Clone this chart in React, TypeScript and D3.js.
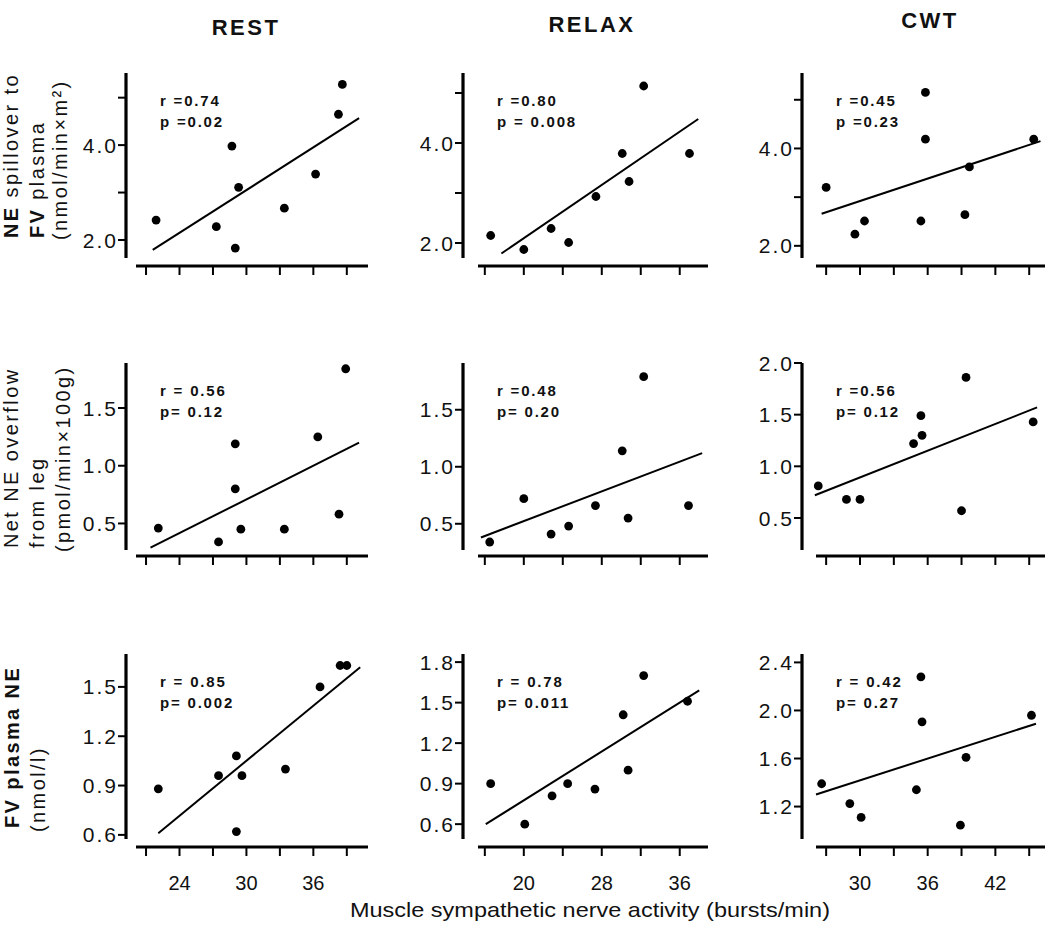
import React from "react";
import * as d3 from "d3";

// ---------- DATA ----------
const columnTitles = ["REST", "RELAX", "CWT"];
const xAxisTitle = "Muscle sympathetic nerve activity (bursts/min)";

// x axes (MSNA, bursts/min)
const restXTicks = [21, 24, 27, 30, 33, 36, 39];
const relaxXTicks = [16, 20, 24, 28, 32, 36];
const cwtXTicks = [27, 30, 33, 36, 39, 42, 45];
const restXLabels = [24, 30, 36];
const relaxXLabels = [20, 28, 36];
const cwtXLabels = [30, 36, 42];
const restXExtent = [20.1, 40.9];
const relaxXExtent = [15.3, 38.9];
const cwtXExtent = [26.1, 46.4];

// y axes
const spillTicks = [2, 3, 4, 5];
const spillLabels = [2, 4];
const overflowTicksA = [0.5, 1.0, 1.5];
const overflowTicksB = [0.5, 1.0, 1.5, 2.0];
const plasmaRestTicks = [0.6, 0.9, 1.2, 1.5];
const plasmaRelaxTicks = [0.6, 0.9, 1.2, 1.5, 1.8];
const plasmaCwtTicks = [1.2, 1.6, 2.0, 2.4];

const spillRestYExtent = [1.62, 5.52];
const spillRelaxYExtent = [1.7, 5.4];
const spillCwtYExtent = [1.75, 5.55];
const overflowRestYExtent = [0.27, 1.89];
const overflowRelaxYExtent = [0.27, 1.91];
const overflowCwtYExtent = [0.19, 2.0];
const plasmaRestYExtent = [0.575, 1.7];
const plasmaRelaxYExtent = [0.49, 1.86];
const plasmaCwtYExtent = [0.93, 2.47];

// Row 1: NE spillover to FV plasma
const spillRestX = [21.9, 27.3, 28.7, 29.0, 29.3, 33.4, 36.2, 38.25, 38.6];
const spillRestY = [2.42, 2.28, 3.98, 1.83, 3.11, 2.67, 3.39, 4.65, 5.28];
const spillRestLineX = [21.6, 40.1];
const spillRestLineY = [1.79, 4.57];

const spillRelaxX = [16.6, 20.0, 22.8, 24.6, 27.4, 30.1, 30.8, 32.3, 37.0];
const spillRelaxY = [2.15, 1.87, 2.29, 2.01, 2.93, 3.79, 3.23, 5.14, 3.79];
const spillRelaxLineX = [17.7, 37.9];
const spillRelaxLineY = [1.79, 4.48];

const spillCwtX = [27.0, 29.55, 30.4, 35.4, 35.8, 35.8, 39.3, 39.7, 45.4];
const spillCwtY = [3.2, 2.24, 2.51, 2.51, 5.15, 4.19, 2.64, 3.62, 4.19];
const spillCwtLineX = [26.6, 46.0];
const spillCwtLineY = [2.66, 4.15];

// Row 2: Net NE overflow from leg
const overflowRestX = [22.1, 27.5, 29.0, 29.0, 29.5, 33.4, 36.4, 38.3, 38.9];
const overflowRestY = [0.46, 0.34, 1.19, 0.8, 0.45, 0.45, 1.25, 0.58, 1.84];
const overflowRestLineX = [21.4, 40.1];
const overflowRestLineY = [0.29, 1.2];

const overflowRelaxX = [16.5, 20.0, 22.8, 24.6, 27.35, 30.1, 30.7, 32.3, 36.9];
const overflowRelaxY = [0.34, 0.72, 0.41, 0.48, 0.66, 1.14, 0.55, 1.79, 0.66];
const overflowRelaxLineX = [15.6, 38.3];
const overflowRelaxLineY = [0.38, 1.12];

const overflowCwtX = [26.3, 28.8, 30.0, 34.75, 35.4, 35.5, 39.0, 39.4, 45.35];
const overflowCwtY = [0.81, 0.68, 0.68, 1.22, 1.49, 1.3, 0.57, 1.86, 1.43];
const overflowCwtLineX = [26.0, 45.7];
const overflowCwtLineY = [0.72, 1.57];

// Row 3: FV plasma NE
const plasmaRestX = [22.1, 27.5, 29.1, 29.1, 29.6, 33.5, 36.6, 38.4, 39.0];
const plasmaRestY = [0.88, 0.96, 1.08, 0.62, 0.96, 1.0, 1.5, 1.63, 1.63];
const plasmaRestLineX = [22.1, 40.2];
const plasmaRestLineY = [0.61, 1.62];

const plasmaRelaxX = [16.6, 20.1, 22.9, 24.5, 27.3, 30.2, 30.7, 32.3, 36.8];
const plasmaRelaxY = [0.9, 0.6, 0.81, 0.9, 0.86, 1.41, 1.0, 1.7, 1.51];
const plasmaRelaxLineX = [16.1, 38.0];
const plasmaRelaxLineY = [0.6, 1.59];

const plasmaCwtX = [26.6, 29.1, 30.1, 35.0, 35.4, 35.5, 38.9, 39.4, 45.2];
const plasmaCwtY = [1.39, 1.225, 1.11, 1.34, 2.28, 1.905, 1.045, 1.61, 1.96];
const plasmaCwtLineX = [26.1, 45.6];
const plasmaCwtLineY = [1.3, 1.89];

const rValues = ["r =0.74", "r =0.80", "r =0.45", "r = 0.56", "r =0.48", "r =0.56", "r = 0.85", "r = 0.78", "r = 0.42"];
const pValues = ["p =0.02", "p = 0.008", "p =0.23", "p= 0.12", "p= 0.20", "p= 0.12", "p= 0.002", "p= 0.011", "p= 0.27"];

// ---------- LAYOUT ----------
const W = 1050;
const H = 939;
const FONT = "'Liberation Sans', Arial, Helvetica, sans-serif";
const colAxisX = [126, 463, 802];
const colXRange = [
  [136, 368],
  [478, 708],
  [816, 1045],
];
const rowYRange = [
  [258, 73],
  [550, 363],
  [839, 654],
];
const rowXAxisY = [266, 556, 847];
const titleX = [246, 592, 930];
const titleBaseline = [35, 32, 28];

type PanelDef = {
  row: number;
  col: number;
  xs: number[];
  ys: number[];
  lx: number[];
  ly: number[];
  xExt: number[];
  yExt: number[];
  xTicks: number[];
  xLabels: number[];
  yTicks: number[];
  yLabels: number[];
};

const colX = [
  { ext: restXExtent, ticks: restXTicks, labels: restXLabels },
  { ext: relaxXExtent, ticks: relaxXTicks, labels: relaxXLabels },
  { ext: cwtXExtent, ticks: cwtXTicks, labels: cwtXLabels },
];

const rows = [
  [
    [spillRestX, spillRestY, spillRestLineX, spillRestLineY, spillRestYExtent, spillTicks, spillLabels],
    [spillRelaxX, spillRelaxY, spillRelaxLineX, spillRelaxLineY, spillRelaxYExtent, spillTicks, spillLabels],
    [spillCwtX, spillCwtY, spillCwtLineX, spillCwtLineY, spillCwtYExtent, spillTicks, spillLabels],
  ],
  [
    [overflowRestX, overflowRestY, overflowRestLineX, overflowRestLineY, overflowRestYExtent, overflowTicksA, overflowTicksA],
    [overflowRelaxX, overflowRelaxY, overflowRelaxLineX, overflowRelaxLineY, overflowRelaxYExtent, overflowTicksA, overflowTicksA],
    [overflowCwtX, overflowCwtY, overflowCwtLineX, overflowCwtLineY, overflowCwtYExtent, overflowTicksB, overflowTicksB],
  ],
  [
    [plasmaRestX, plasmaRestY, plasmaRestLineX, plasmaRestLineY, plasmaRestYExtent, plasmaRestTicks, plasmaRestTicks],
    [plasmaRelaxX, plasmaRelaxY, plasmaRelaxLineX, plasmaRelaxLineY, plasmaRelaxYExtent, plasmaRelaxTicks, plasmaRelaxTicks],
    [plasmaCwtX, plasmaCwtY, plasmaCwtLineX, plasmaCwtLineY, plasmaCwtYExtent, plasmaCwtTicks, plasmaCwtTicks],
  ],
];

const panels: PanelDef[] = [];
rows.forEach((r, ri) =>
  r.forEach((c, ci) => {
    panels.push({
      row: ri,
      col: ci,
      xs: c[0],
      ys: c[1],
      lx: c[2],
      ly: c[3],
      yExt: c[4],
      yTicks: c[5],
      yLabels: c[6],
      xExt: colX[ci].ext,
      xTicks: colX[ci].ticks,
      xLabels: ri === 2 ? colX[ci].labels : [],
    });
  })
);

const fmt = d3.format(".1f");

function Panel({ p }: { p: PanelDef }) {
  const x = d3.scaleLinear().domain(p.xExt).range(colXRange[p.col]);
  const y = d3.scaleLinear().domain(p.yExt).range(rowYRange[p.row]);
  const ax = colAxisX[p.col];
  const xy = rowXAxisY[p.row];
  const top = rowYRange[p.row][1];
  const idx = p.row * 3 + p.col;
  const line = d3
    .line<number>()
    .x((_, i) => x(p.lx[i]))
    .y((d) => y(d));
  return (
    <g>
      <line x1={ax} x2={ax} y1={y(p.yExt[0])} y2={y(p.yExt[1])} stroke="#000" strokeWidth={3.2} />
      {p.yTicks.map((t) => (
        <line key={"yt" + t} x1={ax - 8} x2={ax} y1={y(t)} y2={y(t)} stroke="#000" strokeWidth={2} />
      ))}
      {p.yLabels.map((t) => (
        <text
          key={"yl" + t}
          x={ax - 8}
          y={y(t)}
          dy="0.36em"
          textAnchor="end"
          fontFamily={FONT}
          fontSize={21}
          letterSpacing={2}
          fill="#111"
        >
          {fmt(t)}
        </text>
      ))}
      <line x1={x(p.xExt[0])} x2={x(p.xExt[1])} y1={xy} y2={xy} stroke="#000" strokeWidth={3.2} />
      {p.xTicks.map((t) => (
        <line key={"xt" + t} x1={x(t)} x2={x(t)} y1={xy} y2={xy + 9} stroke="#000" strokeWidth={2} />
      ))}
      {p.xLabels.map((t) => (
        <text key={"xl" + t} x={x(t)} y={xy + 43} textAnchor="middle" fontFamily={FONT} fontSize={20} fill="#111">
          {t}
        </text>
      ))}
      <path d={line(p.ly) || ""} fill="none" stroke="#000" strokeWidth={2} />
      {p.xs.map((v, i) => (
        <circle key={"c" + i} cx={x(v)} cy={y(p.ys[i])} r={4.4} fill="#000" />
      ))}
      <text x={ax + 34} y={top + 33} fontFamily={FONT} fontSize={15} fontWeight="bold" letterSpacing={1.8} fill="#111">
        {rValues[idx]}
      </text>
      <text x={ax + 34} y={top + 54} fontFamily={FONT} fontSize={15} fontWeight="bold" letterSpacing={1.8} fill="#111">
        {pValues[idx]}
      </text>
    </g>
  );
}

function RotLabel({ x, y, children, bold }: { x: number; y: number; children: React.ReactNode; bold?: boolean }) {
  return (
    <text
      transform={`translate(${x},${y}) rotate(-90)`}
      fontFamily={FONT}
      fontSize={20}
      letterSpacing={2.4}
      fontWeight={bold ? "bold" : "normal"}
      fill="#111"
    >
      {children}
    </text>
  );
}

export default function App() {
  return (
    <svg
      width={W}
      height={H}
      viewBox={`0 0 ${W} ${H}`}
      style={{ position: "absolute", left: 0, top: 0, background: "#fff" }}
    >
      <rect x={0} y={0} width={W} height={H} fill="#fff" />
      {columnTitles.map((t, i) => (
        <text
          key={t}
          x={titleX[i]}
          y={titleBaseline[i]}
          textAnchor="middle"
          fontFamily={FONT}
          fontWeight="bold"
          fontSize={22}
          letterSpacing={2.5}
          fill="#111"
        >
          {t}
        </text>
      ))}
      {panels.map((p, i) => (
        <Panel key={i} p={p} />
      ))}
      {/* y-axis titles */}
      <RotLabel x={18} y={238}>
        <tspan fontWeight="bold">NE</tspan> spillover to
      </RotLabel>
      <RotLabel x={44} y={238}>
        <tspan fontWeight="bold">FV</tspan> plasma
      </RotLabel>
      <RotLabel x={67} y={240}>(nmol/min×m²)</RotLabel>
      <RotLabel x={18} y={548}>Net NE overflow</RotLabel>
      <RotLabel x={44} y={548}>from leg</RotLabel>
      <RotLabel x={70} y={552}>(pmol/min×100g)</RotLabel>
      <RotLabel x={19} y={828} bold>
        FV plasma NE
      </RotLabel>
      <RotLabel x={45} y={832}>(nmol/l)</RotLabel>
      <text
        x={590}
        y={917}
        textAnchor="middle"
        fontFamily={FONT}
        fontSize={21}
        textLength={480}
        lengthAdjust="spacingAndGlyphs"
        fill="#111"
      >
        {xAxisTitle}
      </text>
    </svg>
  );
}
